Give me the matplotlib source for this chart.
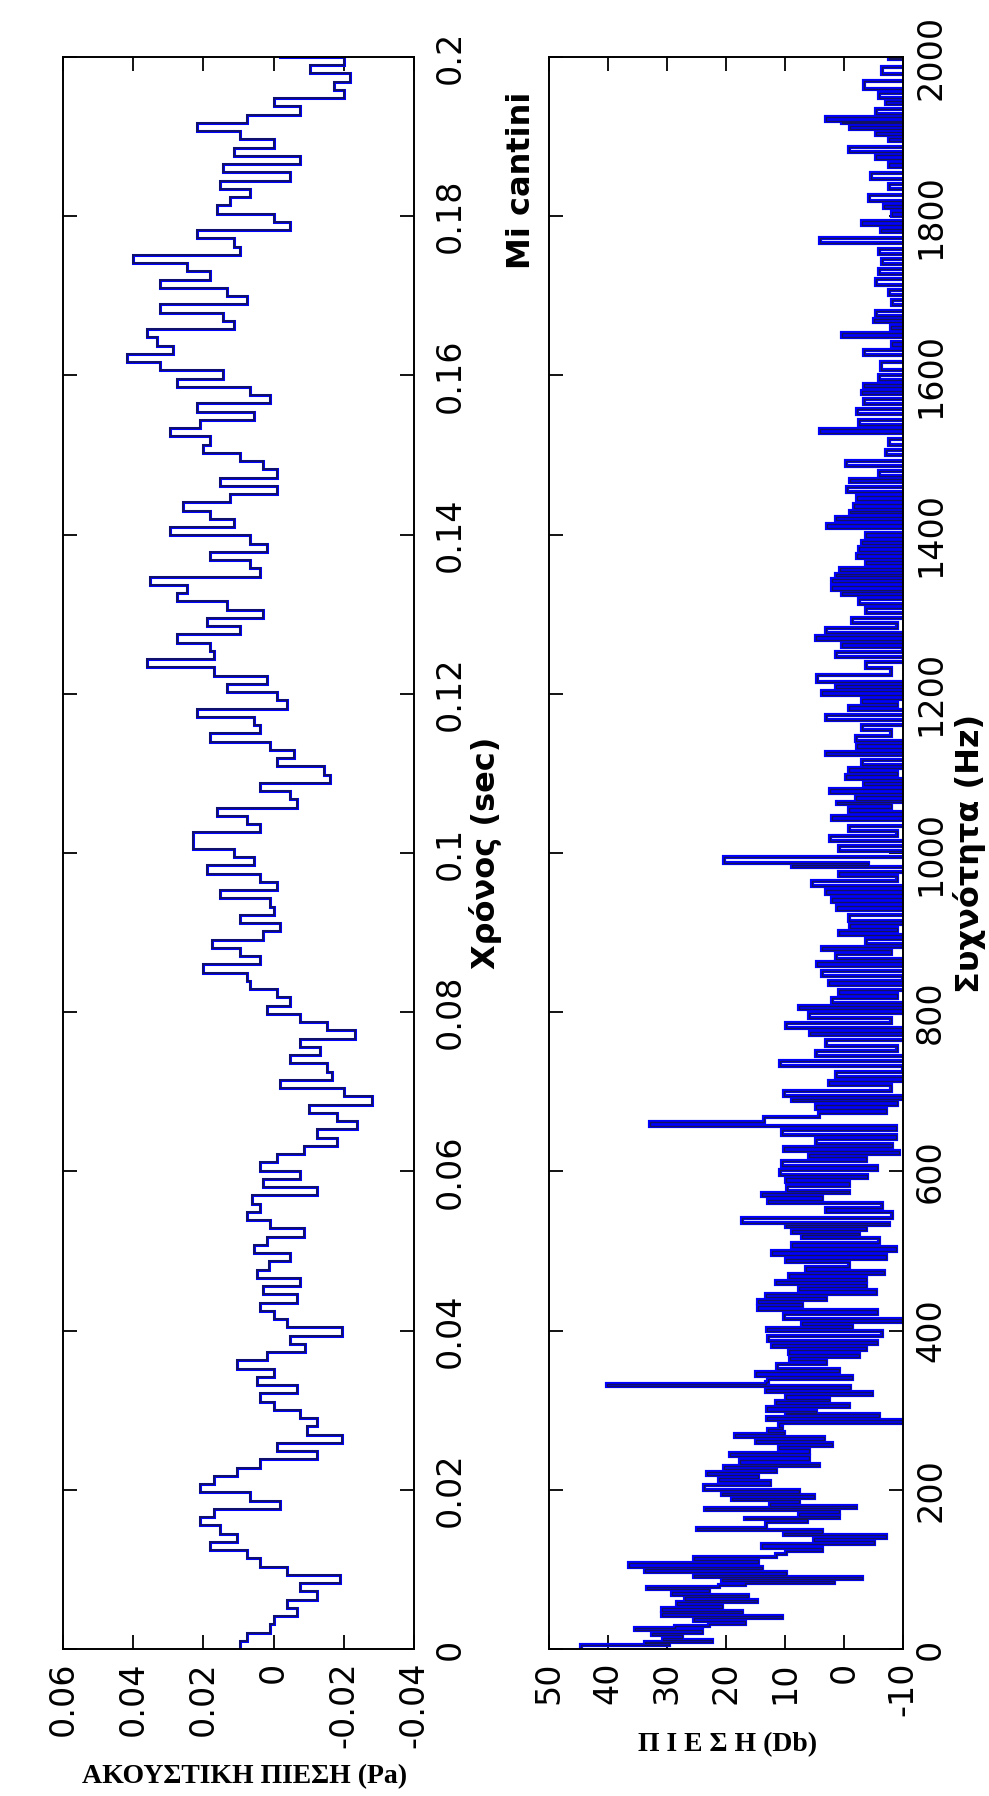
import numpy as np
import matplotlib
matplotlib.use("Agg")
import matplotlib.pyplot as plt

# ---------------- data ----------------
# acoustic pressure (Pa), sampled uniformly over 0 .. 0.2 s
pressure_pa = [
    0.0095, 0.0076, 0.0010, 0.0, -0.0067, -0.0038, -0.0124, -0.0076, -0.0190, -0.0038,
    0.0038, 0.0076, 0.0181, 0.0105, 0.0152, 0.0210, 0.0171, -0.0019, 0.0067, 0.0210,
    0.0171, 0.0105, 0.0038, -0.0124, -0.0010, -0.0195, -0.0095, -0.0124, -0.0076, 0.0,
    0.0038, -0.0067, 0.0048, 0.0, 0.0105, 0.0019, -0.0090, -0.0048, -0.0195, -0.0038,
    0.0, 0.0038, -0.0067, 0.0029, -0.0076, 0.0048, 0.0014, -0.0048, 0.0057, 0.0019,
    -0.0086, 0.0010, 0.0076, 0.0038, 0.0062, -0.0124, 0.0029, -0.0076, 0.0038, -0.0010,
    -0.0086, -0.0181, -0.0124, -0.0238, -0.0181, -0.0100, -0.0281, -0.0200, -0.0019, -0.0167,
    -0.0152, -0.0048, -0.0133, -0.0076, -0.0233, -0.0152, -0.0076, 0.0019, -0.0048, -0.0010,
    0.0067, 0.0076, 0.0200, 0.0038, 0.0095, 0.0176, 0.0029, -0.0019, 0.0095, 0.0,
    0.0010, 0.0152, -0.0010, 0.0038, 0.0190, 0.0057, 0.0114, 0.0229,
    0.0229, 0.0038, 0.0076, 0.0162, -0.0067, -0.0048, 0.0038, -0.0162, -0.0143, -0.0010,
    -0.0057, 0.0010, 0.0181, 0.0038, 0.0057, 0.0219, -0.0038, -0.0010, 0.0133, 0.0019,
    0.0171, 0.0362, 0.0171, 0.0181, 0.0276, 0.0095, 0.0190, 0.0029, 0.0133, 0.0276,
    0.0248, 0.0352, 0.0038, 0.0067, 0.0181, 0.0019, 0.0067, 0.0295, 0.0114, 0.0181,
    0.0257, 0.0124, -0.0010, 0.0152, -0.0010, 0.0029, 0.0095, 0.0200, 0.0181, 0.0295,
    0.0210, 0.0057, 0.0219, 0.0010, 0.0067, 0.0276, 0.0143, 0.0324, 0.0419, 0.0286,
    0.0333, 0.0362, 0.0114, 0.0143, 0.0324, 0.0076, 0.0133, 0.0324, 0.0181, 0.0248,
    0.0400, 0.0095, 0.0114, 0.0219, -0.0048, 0.0, 0.0162, 0.0124, 0.0067, 0.0152,
    -0.0048, 0.0143, -0.0076, 0.0114, 0.0, 0.0095, 0.0219, 0.0076, -0.0076, 0.0,
    -0.0200, -0.0171, -0.0219, -0.0105, -0.0200, -0.0019,
]
t_start, t_end = 0.0, 0.2

# spectrum: per frequency bin the local peak and trough level (dB)
low_freq_hz = [
    2, 7, 11, 17, 24, 29, 35, 42, 48, 55,
    62, 68, 75, 81, 86, 90, 97, 103, 112, 119,
    127, 136, 143, 149, 156, 163, 167, 174, 180, 187,
    193, 200, 211, 218, 226, 233, 242, 251, 259, 266,
    273, 279, 288, 295, 299, 308, 314, 323, 330, 336,
    343, 352, 363, 371, 380, 387, 399, 407, 415, 426,
    435, 442, 451, 459, 466, 475, 486, 495, 505, 516,
    523, 530, 535, 549, 560, 569, 576, 587, 596, 607,
    618, 626, 635, 646, 657, 668,
]
low_peak_db = [
    44.5, 33.7, 30.6, 32.6, 35.4, 22.9, 25.5, 30.9, 30.9, 28.3,
    26.9, 29.2, 33.4, 16.7, 20.7, 25.5, 33.7, 36.5, 25.5, 9.9,
    13.9, 5.1, 10.2, 24.9, 13.3, 16.7, 7.7, 23.5, 12.5, 19.0,
    20.7, 23.8, 21.2, 23.2, 20.4, 17.6, 19.3, 11.1, 15.0, 18.4,
    12.8, 11.1, 13.0, 9.9, 13.0, 11.6, 9.9, 13.3, 40.2, 12.8,
    15.0, 11.3, 9.1, 9.4, 12.2, 12.8, 13.0, 7.1, 10.2, 14.5,
    14.5, 13.3, 7.7, 11.6, 9.4, 6.5, 9.9, 12.2, 8.8, 7.1,
    8.8, 9.9, 17.3, 3.1, 12.8, 13.9, 9.6, 9.9, 10.8, 10.5,
    6.0, 10.2, 4.8, 10.5, 32.8, 4.3,
]
low_trough_db = [
    29.7, 22.4, 27.5, 24.1, 28.6, 16.7, 10.5, 17.3, 20.7, 14.7,
    16.2, 22.9, 21.2, 1.7, -3.1, 9.9, 13.9, 14.5, 11.6, 3.7,
    -5.1, -7.1, 3.7, 13.3, 6.2, 0.9, 0.9, -2.0, 7.7, 5.1,
    7.7, 12.5, 14.5, 11.6, 4.3, 6.0, 6.0, 2.0, 3.4, 10.2,
    10.5, -12.0, -5.9, 4.8, -0.8, 2.6, -4.8, -1.1, 13.3, -1.4,
    0.9, 3.1, -2.5, -3.7, -5.6, -6.5, -1.4, -9.9, -5.6, 7.1,
    3.1, -5.4, -3.7, -3.7, -6.8, -0.8, -7.1, -8.8, -5.9, -2.5,
    -3.7, -7.6, -8.2, -6.5, 3.7, -0.8, -0.8, -3.9, -5.6, -3.7,
    -9.3, -8.2, -8.8, -8.8, 13.6, -7.1,
]

mid_freq_hz = [
    679, 688, 695, 708, 719, 732, 745, 758, 771, 780,
    793, 804, 812, 823, 834, 845, 858, 867, 878, 886,
    897, 906, 915, 928, 939, 949, 958, 971, 982, 988,
    1002, 1015, 1028, 1041, 1052, 1061, 1067, 1076, 1085, 1093,
    1102, 1111, 1123, 1132, 1141, 1154, 1167, 1180, 1189, 1199,
    1207, 1215, 1233, 1246, 1259, 1268, 1276, 1289, 1302, 1313,
    1324, 1331,
]
mid_peak_db = [
    4.8, 8.8, 10.2, 2.6, 1.4, 10.8, 4.8, 3.1, 5.7, 9.9,
    6.0, 7.7, 2.0, 0.9, 2.6, 3.7, 4.5, 1.4, 3.7, -3.7,
    0.9, -1.1, -0.8, 1.2, 2.0, 3.1, 5.4, 0.9, 8.8, 20.4,
    0.9, 2.3, -0.8, 2.0, -0.8, 1.2, -2.0, 2.3, -3.4, -0.3,
    -0.8, -3.1, 3.1, -2.2, -2.0, -3.1, 3.1, -0.8, -3.1, 3.7,
    1.4, 4.5, -3.7, 1.4, 0.3, 4.8, 3.1, -1.4, -3.7, -2.5,
    0.3, 2.0,
]
mid_trough_db = [
    -9.0, -11.0, -8.0, -12.0, -10.0, -12.0, -9.0, -11.0, -12.0, -8.0,
    -11.0, -12.0, -9.0, -12.0, -10.0, -11.0, -12.0, -8.0, -12.0, -11.0,
    -9.0, -12.0, -12.0, -10.0, -11.0, -12.0, -9.0, -12.0, -4.0, -11.0,
    -12.0, -9.0, -12.0, -11.0, -8.0, -12.0, -10.0, -12.0, -11.0, -9.0,
    -12.0, -12.0, -10.0, -12.0, -8.0, -11.0, -12.0, -9.0, -12.0, -11.0,
    -12.0, -8.0, -12.0, -10.0, -12.0, -11.0, -9.0, -12.0, -12.0, -10.0,
    -12.0, -11.0,
]

high_freq_hz = [
    1341, 1348, 1354, 1363, 1371, 1380, 1388, 1397, 1408, 1418,
    1427, 1433, 1444, 1453, 1466, 1474, 1486, 1500, 1513, 1528,
    1538, 1551, 1564, 1577, 1585, 1594, 1607, 1626, 1637, 1648,
    1658, 1667, 1675, 1688, 1701, 1714, 1727, 1740, 1752, 1766,
    1780, 1789, 1800, 1810, 1819, 1834, 1847, 1862, 1872, 1881,
    1894, 1902, 1910, 1917, 1920, 1928, 1941, 1949, 1960, 1979,
    1997,
]
high_peak_db = [
    2.0, 1.4, 0.6, -3.7, -2.2, -2.5, -3.1, -3.7, 2.8, 1.4,
    -1.1, -1.7, -2.2, -0.5, -1.1, -5.9, -0.3, -7.1, -7.6, 4.0,
    -2.5, -2.2, -3.4, -3.1, -3.4, -5.9, -6.2, -3.4, -8.2, 0.3,
    -7.9, -5.1, -5.4, -8.2, -7.6, -5.4, -5.9, -6.5, -5.9, 4.0,
    -6.2, -3.1, -8.2, -6.8, -4.2, -7.6, -4.5, -7.6, -5.4, -0.8,
    -7.6, -5.4, -1.1, 0.3, 3.1, -5.4, -7.1, -5.9, -3.4, -6.5,
    -7.6,
]
high_trough_db = [
    -12.0, -11.0, -13.0, -12.0, -11.5, -12.0, -13.0, -11.0, -12.0, -12.5,
    -11.0, -12.0, -13.0, -12.0, -11.0, -12.0, -12.5, -11.0, -12.0, -13.0,
    -12.0, -11.0, -12.0, -12.5, -11.0, -12.0, -13.0, -12.0, -11.0, -12.0,
    -12.5, -11.0, -12.0, -13.0, -12.0, -11.0, -12.0, -12.5, -11.0, -12.0,
    -13.0, -12.0, -11.0, -12.0, -12.5, -11.0, -12.0, -13.0, -12.0, -11.0,
    -12.0, -12.5, -11.0, -12.0, -13.0, -12.0, -11.0, -12.0, -12.5, -11.0,
    -12.0,
]

# axis ticks and their labels
time_ticks = [0, 0.02, 0.04, 0.06, 0.08, 0.1, 0.12, 0.14, 0.16, 0.18, 0.2]
time_tick_labels = ['0', '0.02', '0.04', '0.06', '0.08', '0.1',
                    '0.12', '0.14', '0.16', '0.18', '0.2']
pa_ticks = [0.06, 0.04, 0.02, 0.0, -0.02, -0.04]
pa_tick_labels = ['0.06', '0.04', '0.02', '0', '-0.02', '-0.04']
freq_ticks = [0, 200, 400, 600, 800, 1000, 1200, 1400, 1600, 1800, 2000]
freq_tick_labels = [str(f) for f in freq_ticks]
db_ticks = [50, 40, 30, 20, 10, 0, -10]
db_tick_labels = ['50', '40', '30', '20', '10', '0', '-10']

# ---------------- figure ----------------
W, H = 989, 1796
fig = plt.figure(figsize=(W / 100, H / 100), dpi=100)
fig.patch.set_facecolor('white')

BLUE = '#0000ff'
NAVY = '#12125e'
TICK_FAMILY = 'DejaVu Sans'
TICK_SIZE = 24


def px_axes(x0, x1, y0, y1):
    return fig.add_axes([x0 / W, 1 - y1 / H, (x1 - x0) / W, (y1 - y0) / H])


def style_axes(ax, side_pad):
    for sp in ax.spines.values():
        sp.set_linewidth(1.4)
        sp.set_color('black')
    ax.tick_params(axis='both', which='major', direction='in', length=10, width=1.3,
                   top=True, bottom=True, left=True, right=True,
                   labelleft=False, labelright=True, labelbottom=True, labeltop=False)
    ax.tick_params(axis='x', pad=9)
    ax.tick_params(axis='y', pad=side_pad)
    for lab in ax.get_xticklabels():
        lab.set_rotation(90)
        lab.set_ha('center')
        lab.set_va('top')
        lab.set_fontfamily(TICK_FAMILY)
        lab.set_fontsize(TICK_SIZE)
    for lab in ax.get_yticklabels():
        lab.set_rotation(90)
        lab.set_va('center')
        lab.set_ha('left')
        lab.set_fontfamily(TICK_FAMILY)
        lab.set_fontsize(TICK_SIZE)


# ---- time signal (time runs upward, pressure increases to the left)
ax1 = px_axes(63, 414, 57, 1649)
v = np.asarray(pressure_pa)
t = np.linspace(t_start, t_end, len(v))
t_path = np.repeat(t, 2)[1:]
v_path = np.repeat(v, 2)[:-1]
ax1.plot(v_path, t_path, color=BLUE, lw=2.2, solid_joinstyle='miter')
ax1.plot(v_path, t_path, color=NAVY, lw=1.3, solid_joinstyle='miter')
ax1.set_xlim(0.06, -0.04)
ax1.set_ylim(0, 0.2)
ax1.set_xticks(pa_ticks, pa_tick_labels)
ax1.set_yticks(time_ticks, time_tick_labels)
style_axes(ax1, 14)

# ---- spectrum (frequency runs upward, level increases to the left)
ax2 = px_axes(549, 903, 57, 1649)
f = np.asarray(low_freq_hz + mid_freq_hz + high_freq_hz, dtype=float)
pk = np.asarray(low_peak_db + mid_peak_db + high_peak_db)
tr = np.asarray(low_trough_db + mid_trough_db + high_trough_db)
f_mid = np.append((f[:-1] + f[1:]) / 2, f[-1] + 2)
f_pts = np.column_stack([f, f_mid]).ravel()
d_pts = np.column_stack([pk, tr]).ravel()
f_path = np.repeat(f_pts, 2)[1:]
d_path = np.repeat(d_pts, 2)[:-1]
ax2.plot(d_path, f_path, color=BLUE, lw=3.0, solid_joinstyle='miter')
ax2.plot(d_path, f_path, color=NAVY, lw=1.0, solid_joinstyle='miter')
ax2.set_xlim(50, -10)
ax2.set_ylim(0, 2000)
ax2.set_xticks(db_ticks, db_tick_labels)
ax2.set_yticks(freq_ticks, freq_tick_labels)
style_axes(ax2, 8)

# ---- axis titles
label_font = dict(family='DejaVu Sans', weight='bold', size=23)
fig.text(485 / W, 1 - 853 / H, 'Χρόνος (sec)', rotation=90, ha='center', va='center',
         **label_font)
fig.text(970 / W, 1 - 853 / H, 'Συχνότητα (Hz)', rotation=90, ha='center', va='center',
         **label_font)
fig.text(522 / W, 1 - 180 / H, 'Mi cantini', rotation=90, ha='center', va='center',
         **label_font)

serif_font = dict(family='Liberation Serif', weight='bold', size=20)
fig.text(245 / W, 1 - 1777 / H, 'ΑΚΟΥΣΤΙΚΗ ΠΙΕΣΗ (Pa)', ha='center', va='center',
         **serif_font)
fig.text(728 / W, 1 - 1745 / H, 'Π Ι Ε Σ Η (Db)', ha='center', va='center',
         **serif_font)

fig.savefig('out.png', dpi=100, facecolor='white')
